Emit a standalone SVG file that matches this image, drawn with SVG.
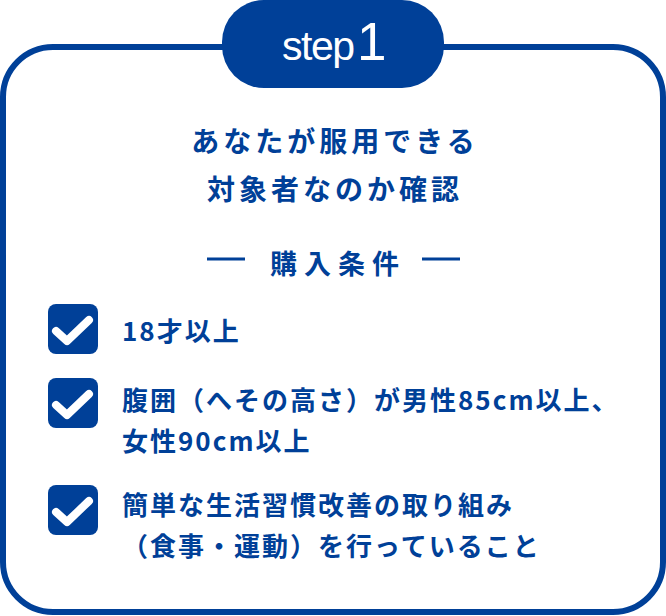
<svg xmlns="http://www.w3.org/2000/svg" width="666" height="616" viewBox="0 0 666 616">
<defs>
<style>
.blue{fill:#004098}
.jp{font-family:"Noto Sans CJK JP","Noto Sans",sans-serif;font-weight:bold;fill:#004098}
.title{font-size:28px;letter-spacing:4px}
.item{font-size:26px;letter-spacing:2px}
.chk{fill:none;stroke:#fff;stroke-width:8;stroke-linecap:round;stroke-linejoin:round}
.dash{stroke:#004098;stroke-width:3}
</style>
<g id="checkbox">
<rect x="0" y="0" width="50" height="50" rx="8" class="blue"/>
<polyline points="8,27 19,37 41,16" class="chk"/>
</g>
</defs>
<g id="frame">
<rect x="3" y="47" width="660" height="565" rx="50" fill="none" stroke="#004098" stroke-width="6"/>
</g>
<g id="badge">
<rect x="222" y="0" width="222" height="88" rx="42" class="blue"/>
<text x="282" y="60" font-family="Liberation Sans, Arial, sans-serif" font-size="41" letter-spacing="-1.5" fill="#fff">step</text>
<text x="357" y="60" font-family="Liberation Sans, Arial, sans-serif" font-size="53" fill="#fff">1</text>
</g>
<g id="heading">
<text x="335" y="152" text-anchor="middle" class="jp title">あなたが服用できる</text>
<text x="335" y="200" text-anchor="middle" class="jp title">対象者なのか確認</text>
</g>
<g id="subheading">
<line x1="207" y1="259" x2="245" y2="259" class="dash"/>
<text x="338" y="274" text-anchor="middle" class="jp" font-size="27" letter-spacing="7">購入条件</text>
<line x1="422" y1="259" x2="460" y2="259" class="dash"/>
</g>
<g id="item1">
<use href="#checkbox" x="48" y="304"/>
<text x="122" y="341" class="jp item">18才以上</text>
</g>
<g id="item2">
<use href="#checkbox" x="48" y="378"/>
<text x="122" y="410" class="jp item">腹囲（へその高さ）が男性85cm以上、</text>
<text x="122" y="451" class="jp item">女性90cm以上</text>
</g>
<g id="item3">
<use href="#checkbox" x="48" y="485"/>
<text x="122" y="515" class="jp item">簡単な生活習慣改善の取り組み</text>
<text x="122" y="556" class="jp item">（食事・運動）を行っていること</text>
</g>
</svg>
